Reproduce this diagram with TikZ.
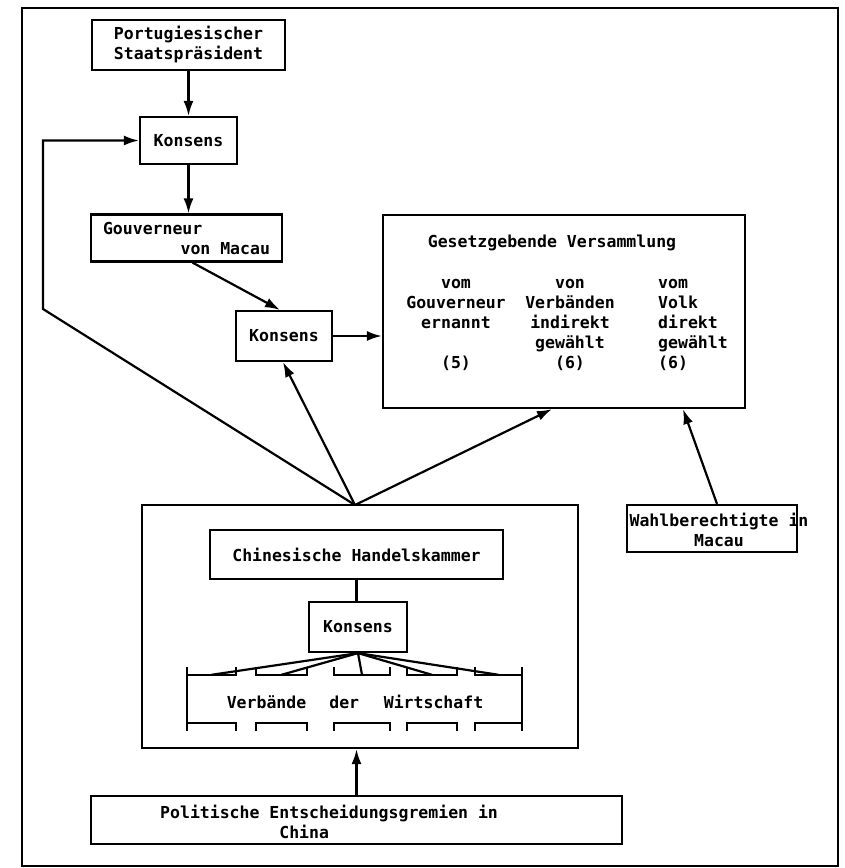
\documentclass[tikz,border=0pt]{standalone}
\usepackage{fontspec}
\setmonofont{DejaVu Sans Mono}
\usetikzlibrary{arrows.meta,calc}
\newlength{\LineWd}
\newlength{\TickLen}
\setlength{\LineWd}{2.2pt}
\setlength{\TickLen}{8pt}
\tikzset{
  org box/.style={draw, rectangle, line width=\LineWd, inner sep=0pt, align=center},
  org text/.style={inner sep=0pt, align=center},
  verb slot/.style={rectangle, inner sep=0pt, minimum height=48pt},
  link/.style={line width=\LineWd},
}

\begin{document}
\begin{tikzpicture}[
    x=1pt, y=-1pt,
    >={Latex[length=15pt,width=10pt]},
    font=\ttfamily\bfseries\fontsize{16.5}{20}\selectfont
  ]
  \useasboundingbox (0,0) rectangle (845,868);
  \draw[line width=2.6pt] (22,8) rectangle (838,866);

  % Portugal / Macau side
  \node[org box, minimum width=193pt, minimum height=50pt] (praes) at (188.5,45)
    {Portugiesischer\\Staatspräsident};
  \node[org box, minimum width=97pt, minimum height=47pt] (kons1) at (188.5,140.5) {Konsens};
  \node[org box, minimum width=191pt, minimum height=47pt, align=left] (gouv) at (186.5,238)
    {Gouverneur\\\hspace*{4.7em}von Macau};
  \node[org box, minimum width=96pt, minimum height=50pt] (kons2) at (284,336) {Konsens};

  % Legislative assembly
  \node[org box, minimum width=362pt, minimum height=193pt] (gesetz) at (564,311.5) {};
  \node[org text] (titel) at (552,243) {Gesetzgebende Versammlung};
  \node[org text] (col1) at (456,325) {vom\\Gouverneur\\ernannt\\\mbox{}\\(5)};
  \node[org text] (col2) at (570,325) {von\\Verbänden\\indirekt\\gewählt\\(6)};
  \node[org text, align=left, anchor=west] (col3) at (658,325) {vom\\Volk\\direkt\\gewählt\\(6)};

  \node[org box, minimum width=170pt, minimum height=47pt] (wahl) at (712,528.5) {};
  \node[org text] (wahltext) at (719,530) {Wahlberechtigte in\\Macau};

  % Chinese side
  \node[org box, minimum width=436pt, minimum height=243pt] (kammer) at (360,626.5) {};
  \coordinate (apex) at (355,505);
  \coordinate (bend) at (43,309);
  \node[org box, minimum width=293pt, minimum height=49pt] (handel) at (356.5,554.5)
    {Chinesische Handelskammer};
  \node[org box, minimum width=98pt, minimum height=50pt] (kons3) at (358,627) {Konsens};

  \foreach \name/\cx/\w in {v1/211.5/49, v2/281.5/51, v3/362/56, v4/432/50, v5/498.5/47}
    \node[verb slot, minimum width=\w pt] (\name) at (\cx,699) {};
  \node[org text] (verb) at (355,702) {Verbände\hspace{1.4em}der\hspace{1.5em}Wirtschaft};

  \node[org box, minimum width=531pt, minimum height=48pt] (polit) at (356.5,820) {};
  \node[org text, align=left, anchor=west] (polittext) at (160,822)
    {Politische Entscheidungsgremien in\\\hspace*{7.22em}China};

  % connectors
  \draw[link,->] (praes.south) -- (praes.south |- kons1.north);
  \draw[link,->] (kons1.south) -- (kons1.south |- gouv.north);
  \draw[link,->] ($(gouv.south)+(6,0)$) -- ($(kons2.north)+(-4,0)$);
  \draw[link,->] (kons2.east) -- (kons2.east -| gesetz.west);
  \draw[link,->] (apex) -- ($(kons2.south)+(-1,0)$);
  \draw[link,->] (apex) -- ($(gesetz.south)+(-12,0)$);
  \draw[link,->] (apex) -- (bend) |- (kons1.west);
  \draw[link,->] ($(wahl.north)+(5,0)$) -- ($(gesetz.south)+(119,0)$);
  \draw[link,->] (polit.north) -- (polit.north |- kammer.south);
  \draw[link] (handel.south) -- (handel.south |- kons3.north);

  \foreach \v in {v1,v2,v3,v4,v5} {
    \draw[link] (kons3.south) -- (\v.north);
    \draw[link] ($(\v.north west)+(0,\TickLen)$) -- (\v.north west) -- (\v.north east) -- ++(0,\TickLen);
    \draw[link] ($(\v.south west)+(0,-\TickLen)$) -- (\v.south west) -- (\v.south east) -- ++(0,-\TickLen);
  }
  \draw[link] (v1.north west) -- (v1.south west);
  \draw[link] (v5.north east) -- (v5.south east);

\end{tikzpicture}
\end{document}
